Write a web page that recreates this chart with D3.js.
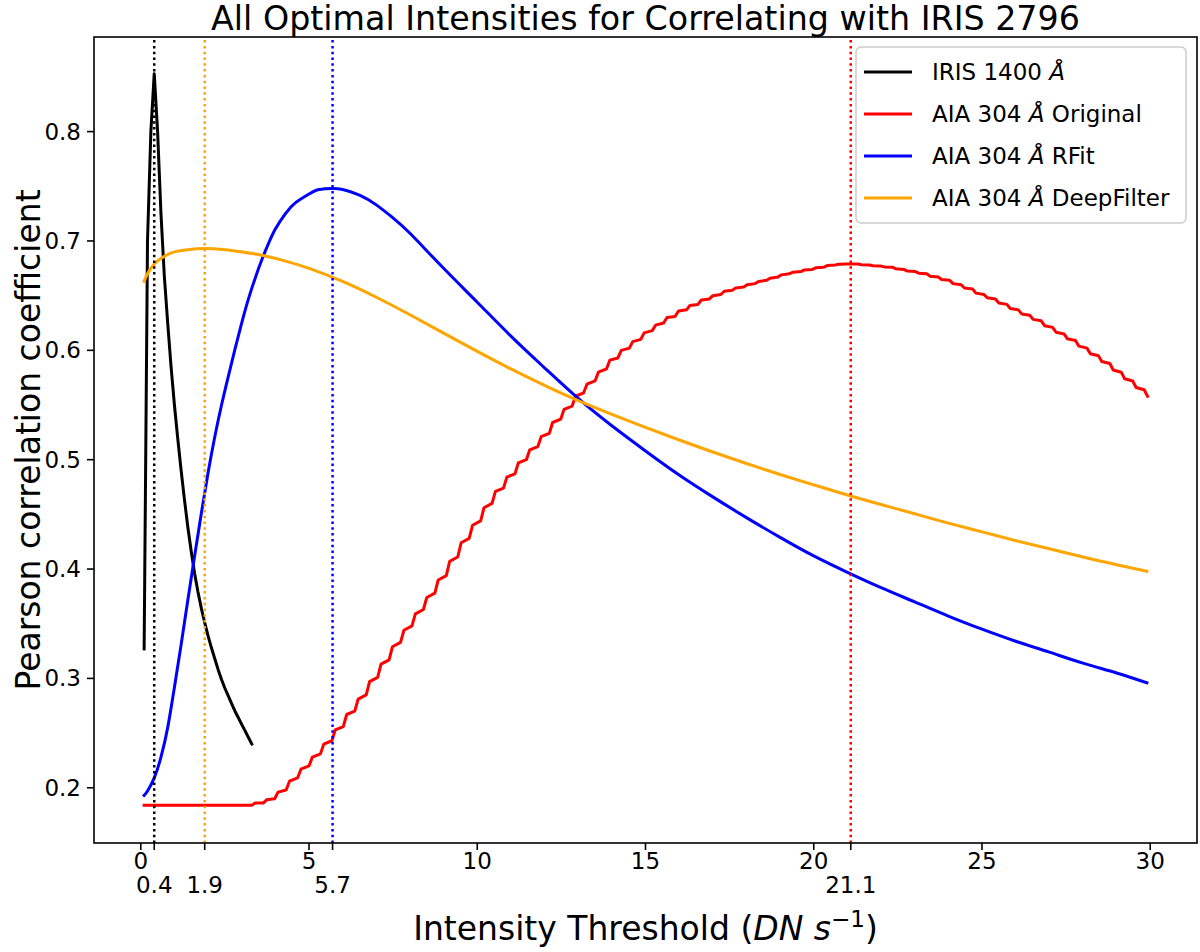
<!DOCTYPE html>
<html>
<head>
<meta charset="utf-8">
<script src="https://cdn.jsdelivr.net/npm/d3@7"></script>
<style>
  body { margin: 0; background: #fff; }
  svg { font-family: 'DejaVu Sans', sans-serif; display: block; }
</style>
</head>
<body>
<div id="chart"></div>
<script>
// axis ticks
const xTicks = [0, 5, 10, 15, 20, 25, 30];
const yTicks = [0.2, 0.3, 0.4, 0.5, 0.6, 0.7, 0.8];

// optimal thresholds (dotted lines + second row of tick labels)
const optimalX = [0.4, 1.9, 5.7, 21.1];
const optimalColors = ['black', 'orange', 'blue', 'red'];

// IRIS 1400, sampled every 0.1 from 0.1
const irisValues = [0.327, 0.700, 0.800, 0.853, 0.800, 0.725, 0.668, 0.625, 0.585, 0.550,
  0.519, 0.490, 0.463, 0.438, 0.416, 0.396, 0.379, 0.364, 0.351, 0.339,
  0.328, 0.318, 0.308, 0.299, 0.291, 0.284, 0.277, 0.270, 0.264, 0.258,
  0.252, 0.246, 0.240];

// AIA 304 Original: flat part, then a staircase (value at start / end of each jump)
const origFlat = 0.184;
const origStart = 3.3;
const origPeriod = 0.34;
const origJump = 0.1;
const origSteps = [
  [0.184, 0.186], [0.186, 0.189], [0.190, 0.196], [0.198, 0.206], [0.209, 0.217],
  [0.220, 0.228], [0.231, 0.240], [0.243, 0.253], [0.256, 0.267], [0.270, 0.281],
  [0.285, 0.297], [0.301, 0.313], [0.317, 0.329], [0.333, 0.344], [0.348, 0.359],
  [0.363, 0.374], [0.378, 0.390], [0.394, 0.407], [0.411, 0.424], [0.428, 0.440],
  [0.444, 0.456], [0.460, 0.471], [0.474, 0.484], [0.487, 0.497], [0.500, 0.509],
  [0.512, 0.521], [0.524, 0.534], [0.537, 0.546], [0.549, 0.558], [0.561, 0.569],
  [0.572, 0.580], [0.583, 0.591], [0.593, 0.600], [0.602, 0.608], [0.610, 0.616],
  [0.618, 0.623], [0.625, 0.630], [0.631, 0.636], [0.637, 0.641], [0.642, 0.646],
  [0.647, 0.650], [0.651, 0.654], [0.655, 0.657], [0.658, 0.660], [0.661, 0.663],
  [0.664, 0.666], [0.667, 0.669], [0.670, 0.6715], [0.672, 0.6735], [0.674, 0.6755],
  [0.676, 0.6775], [0.678, 0.6788], [0.679, 0.679], [0.679, 0.6783], [0.678, 0.6773],
  [0.677, 0.6763], [0.676, 0.6745], [0.674, 0.6725], [0.672, 0.6705], [0.670, 0.6678],
  [0.667, 0.6648], [0.664, 0.661], [0.660, 0.657], [0.656, 0.6523], [0.651, 0.648],
  [0.647, 0.6433], [0.642, 0.6383], [0.637, 0.6333], [0.632, 0.6283], [0.627, 0.6225],
  [0.621, 0.6165], [0.615, 0.6105], [0.609, 0.6038], [0.602, 0.5968], [0.595, 0.5898],
  [0.588, 0.582], [0.580, 0.574], [0.572, 0.566], [0.564, 0.558]
];

// AIA 304 RFit
const rfitX = [0.1, 0.2, 0.4, 0.6, 0.8, 1.0, 1.2, 1.4, 1.6, 1.8, 2.0, 2.2, 2.4, 2.6, 2.8, 3.0,
  3.2, 3.4, 3.6, 3.8, 4.0, 4.3, 4.6, 5.0, 5.3, 5.7, 6.0, 6.5, 7.0, 7.5, 8.0, 9.0, 10.0,
  11.0, 12.0, 13.0, 14.0, 15.0, 16.0, 17.0, 18.0, 19.0, 20.0, 21.0, 22.0, 23.0, 24.0,
  25.0, 26.0, 27.0, 28.0, 29.0, 29.9];
const rfitValues = [0.193, 0.197, 0.209, 0.228, 0.255, 0.292, 0.331, 0.372, 0.412, 0.451,
  0.488, 0.521, 0.550, 0.576, 0.601, 0.625, 0.647, 0.666, 0.683, 0.698, 0.711, 0.725,
  0.735, 0.743, 0.747, 0.748, 0.747, 0.742, 0.733, 0.721, 0.707, 0.675, 0.644, 0.613,
  0.584, 0.556, 0.531, 0.508, 0.486, 0.466, 0.447, 0.429, 0.412, 0.397, 0.383, 0.370,
  0.357, 0.345, 0.334, 0.324, 0.314, 0.305, 0.296];

// AIA 304 DeepFilter
const deepX = [0.1, 0.2, 0.4, 0.7, 1.0, 1.4, 1.9, 2.5, 3.0, 3.6, 4.2, 5.0, 6.0, 7.0, 8.0,
  9.0, 10.0, 11.0, 12.0, 13.0, 14.0, 15.0, 16.0, 17.0, 18.0, 19.0, 20.0, 21.0, 22.0,
  23.0, 24.0, 25.0, 26.0, 27.0, 28.0, 29.0, 29.9];
const deepValues = [0.663, 0.670, 0.679, 0.686, 0.690, 0.692, 0.693, 0.692, 0.690, 0.687,
  0.6825, 0.675, 0.663, 0.6485, 0.6325, 0.6157, 0.599, 0.583, 0.568, 0.554, 0.5415, 0.5295,
  0.518, 0.507, 0.4965, 0.4865, 0.477, 0.4677, 0.459, 0.4505, 0.442, 0.434, 0.426, 0.4185,
  0.411, 0.404, 0.398];

const legendLabels = [
  ['IRIS 1400 ', 'Å', ''],
  ['AIA 304 ', 'Å', ' Original'],
  ['AIA 304 ', 'Å', ' RFit'],
  ['AIA 304 ', 'Å', ' DeepFilter']
];
const legendColors = ['black', 'red', 'blue', 'orange'];

document.addEventListener('DOMContentLoaded', function () {
  const width = 1200;
  const height = 952;
  const plot = { left: 94, right: 1197, top: 37, bottom: 843 };

  const svg = d3.select('#chart').append('svg').attr('width', width).attr('height', height);

  const x = d3.scaleLinear().domain([-1.39, 31.39]).range([plot.left, plot.right]);
  const y = d3.scaleLinear().domain([0.1495, 0.8865]).range([plot.bottom, plot.top]);

  // build point lists
  const irisPts = irisValues.map((v, i) => [(i + 1) / 10, v]);
  const origPts = [[0.1, origFlat]];
  origSteps.forEach(([a, b], k) => {
    const x0 = origStart + k * origPeriod;
    origPts.push([x0, a], [x0 + origJump, b]);
  });
  const rfitPts = rfitX.map((d, i) => [d, rfitValues[i]]);
  const deepPts = deepX.map((d, i) => [d, deepValues[i]]);

  const straight = d3.line().x((d) => x(d[0])).y((d) => y(d[1]));
  const smooth = d3.line().x((d) => x(d[0])).y((d) => y(d[1])).curve(d3.curveNatural);

  const curves = svg.append('g')
    .attr('fill', 'none')
    .attr('stroke-width', 3)
    .attr('stroke-linejoin', 'round')
    .attr('stroke-linecap', 'square');

  curves.append('path').attr('d', straight(irisPts)).attr('stroke', 'black');
  curves.append('path').attr('d', straight(origPts)).attr('stroke', 'red');
  curves.append('path').attr('d', smooth(rfitPts)).attr('stroke', 'blue');
  curves.append('path').attr('d', smooth(deepPts)).attr('stroke', 'orange');

  // dotted optimal lines
  svg.append('g')
    .selectAll('line')
    .data(optimalX)
    .enter()
    .append('line')
    .attr('x1', (d) => x(d))
    .attr('x2', (d) => x(d))
    .attr('y1', plot.bottom)
    .attr('y2', plot.top)
    .attr('stroke', (d, i) => optimalColors[i])
    .attr('stroke-width', 2.5)
    .attr('stroke-dasharray', '2.5,3.3');

  // frame
  svg.append('rect')
    .attr('x', plot.left)
    .attr('y', plot.top)
    .attr('width', plot.right - plot.left)
    .attr('height', plot.bottom - plot.top)
    .attr('fill', 'none')
    .attr('stroke', 'black')
    .attr('stroke-width', 1.6);

  // x axis: major ticks on first row, optimal values on second row
  const xAxis = svg.append('g').attr('transform', `translate(0,${plot.bottom})`);
  const allX = xTicks.map((d) => [d, 0]).concat(optimalX.map((d) => [d, 1]));
  const xt = xAxis.selectAll('g').data(allX).enter().append('g')
    .attr('transform', (d) => `translate(${x(d[0])},0)`);
  xt.append('line').attr('y2', 7).attr('stroke', 'black').attr('stroke-width', 1.6);
  xt.append('text')
    .attr('y', (d) => (d[1] === 0 ? 26 : 50))
    .attr('text-anchor', 'middle')
    .attr('font-size', 23)
    .text((d) => d[0]);

  // y axis
  const yAxis = svg.append('g').attr('transform', `translate(${plot.left},0)`);
  const yt = yAxis.selectAll('g').data(yTicks).enter().append('g')
    .attr('transform', (d) => `translate(0,${y(d)})`);
  yt.append('line').attr('x2', -7).attr('stroke', 'black').attr('stroke-width', 1.6);
  yt.append('text')
    .attr('x', -13)
    .attr('y', 8)
    .attr('text-anchor', 'end')
    .attr('font-size', 23)
    .text((d) => d.toFixed(1));

  // title and labels
  const cx = (plot.left + plot.right) / 2;
  svg.append('text')
    .attr('x', cx)
    .attr('y', 30)
    .attr('text-anchor', 'middle')
    .attr('font-size', 33.3)
    .text('All Optimal Intensities for Correlating with IRIS 2796');

  const xl = svg.append('text')
    .attr('x', cx)
    .attr('y', 940)
    .attr('text-anchor', 'middle')
    .attr('font-size', 33);
  xl.append('tspan').text('Intensity Threshold (');
  xl.append('tspan').attr('font-style', 'italic').text('DN s');
  xl.append('tspan').attr('font-size', 23).attr('dy', -13).text('−1');
  xl.append('tspan').attr('dy', 13).text(')');

  svg.append('text')
    .attr('transform', `translate(40,${(plot.top + plot.bottom) / 2}) rotate(-90)`)
    .attr('text-anchor', 'middle')
    .attr('font-size', 33)
    .text('Pearson correlation coefficient');

  // legend
  const lg = svg.append('g').attr('transform', 'translate(856,47)');
  lg.append('rect')
    .attr('width', 330)
    .attr('height', 176)
    .attr('rx', 5)
    .attr('fill', 'white')
    .attr('fill-opacity', 0.8)
    .attr('stroke', '#cccccc')
    .attr('stroke-width', 1.5);
  const rows = lg.selectAll('g').data(legendLabels).enter().append('g')
    .attr('transform', (d, i) => `translate(0,${25 + i * 42})`);
  rows.append('line')
    .attr('x1', 8)
    .attr('x2', 56)
    .attr('stroke', (d, i) => legendColors[i])
    .attr('stroke-width', 3);
  const lt = rows.append('text').attr('x', 76).attr('y', 8).attr('font-size', 23);
  lt.append('tspan').text((d) => d[0]);
  lt.append('tspan').attr('font-style', 'italic').text((d) => d[1]);
  lt.append('tspan').text((d) => d[2]);
});
</script>
</body>
</html>
